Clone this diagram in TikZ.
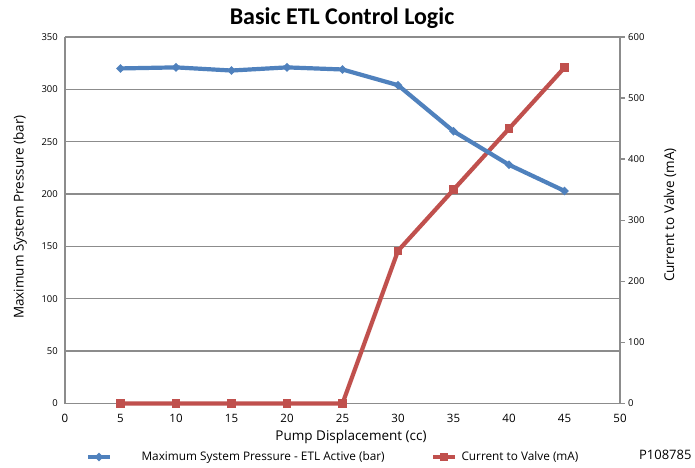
\documentclass[tikz,border=0pt]{standalone}
\usepackage{fontspec}
\setmainfont{Open Sans}
\newfontfamily\titlefont{Carlito}
\usepackage{xcolor}
\usetikzlibrary{shapes.geometric,calc}
\definecolor{pressblue}{HTML}{4F81BD}
\definecolor{valvered}{HTML}{C0504D}
\definecolor{gridgray}{HTML}{8C8C8C}

\begin{document}
\begin{tikzpicture}[x=1pt,y=-1pt,
    grid line/.style={gridgray, line width=1.4pt},
    tick label/.style={font=\fontsize{9.5}{12}\selectfont, inner sep=1pt},
    axis title/.style={font=\fontsize{13.5}{16}\selectfont},
    legend text/.style={font=\fontsize{11.8}{14}\selectfont, anchor=west},
    press line/.style={pressblue, line width=4.2pt, line join=round},
    valve line/.style={valvered, line width=4.2pt, line join=round},
    press mark/.style={diamond, fill=pressblue, inner sep=0pt, minimum width=9pt, minimum height=9pt},
    valve mark/.style={rectangle, fill=valvered, inner sep=0pt, minimum size=8.5pt}]
  \useasboundingbox (0,0) rectangle (695,467);
  \fill[white] (0,0) rectangle (695,467);

  % plot frame and grid
  \coordinate (origin) at (65,403.5);
  \foreach \v in {50,100,...,350}
    \draw[grid line] (65,{403.5-\v*1.0471}) -- (620,{403.5-\v*1.0471});
  \draw[grid line] (65,37) -- (origin) -- (620,403.5) -- (620,37);

  % left axis
  \foreach \v in {0,50,...,350}
    \node[tick label, anchor=east] (yl\v) at (59,{403.5-\v*1.0471}) {\v};
  % right axis
  \foreach \v in {0,100,...,600} {
    \draw[grid line] (620,{403.5-\v*0.6108}) -- (625,{403.5-\v*0.6108});
    \node[tick label, anchor=west] (yr\v) at (627,{403.5-\v*0.6108}) {\v};
  }
  % bottom axis
  \foreach \c in {0,5,...,50}
    \node[tick label, font=\fontsize{11.5}{14}\selectfont] (xt\c) at ({65+\c*11.1},418) {\c};

  \node[font=\titlefont\bfseries\fontsize{24}{28}\selectfont] (title) at (342,18) {Basic ETL Control Logic};
  \node[axis title] (xtitle) at (351,437) {Pump Displacement (cc)};
  \node[axis title, rotate=90] (yltitle) at (20,217) {Maximum System Pressure (bar)};
  \node[axis title, rotate=90] (yrtitle) at (670,215) {Current to Valve (mA)};

  % data points
  \foreach \c/\p in {5/320,10/321,15/318,20/321,25/319,30/304,35/260,40/228,45/203}
    \coordinate (p\c) at ({65+\c*11.1},{403.5-\p*1.0471});
  \foreach \c/\i in {5/0,10/0,15/0,20/0,25/0,30/250,35/350,40/450,45/550}
    \coordinate (i\c) at ({65+\c*11.1},{403.5-\i*0.6108});

  \draw[valve line] (i5) -- (i10) -- (i15) -- (i20) -- (i25) -- (i30) -- (i35) -- (i40) -- (i45);
  \draw[press line] (p5) -- (p10) -- (p15) -- (p20) -- (p25) -- (p30) -- (p35) -- (p40) -- (p45);
  \foreach \c in {5,10,...,45} {
    \node[valve mark] at (i\c) {};
    \node[press mark] at (p\c) {};
  }

  % legend
  \coordinate (lp1) at (88,457);
  \coordinate (lp2) at (110,457);
  \draw[press line] (lp1) -- (lp2);
  \node[press mark] at ($(lp1)!0.5!(lp2)$) {};
  \node[legend text] (lptext) at (138,457) {Maximum System Pressure - ETL Active (bar)};
  \coordinate (li1) at (433,457);
  \coordinate (li2) at (455,457);
  \draw[valve line] (li1) -- (li2);
  \node[valve mark] at ($(li1)!0.5!(li2)$) {};
  \node[legend text] (litext) at (458,457) {Current to Valve (mA)};

  \node[font=\fontsize{13}{16}\selectfont, anchor=east] (partno) at (695,455) {P108785};
\end{tikzpicture}
\end{document}
